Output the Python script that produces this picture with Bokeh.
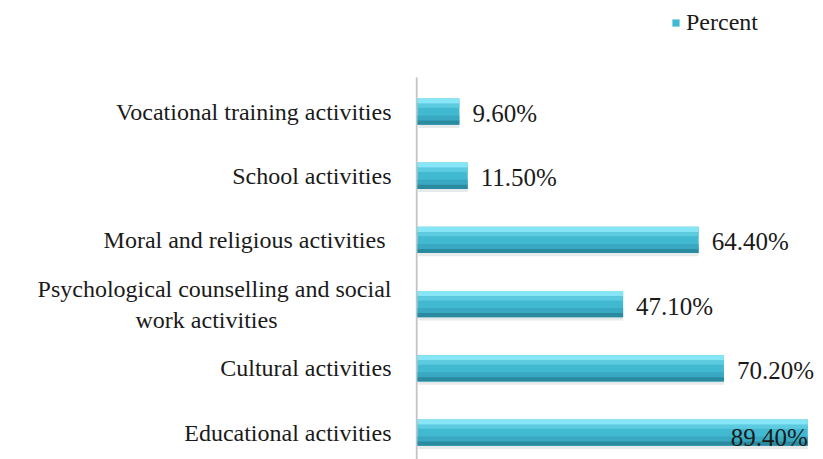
from bokeh.plotting import figure
from bokeh.models import Range1d, ColumnDataSource, Legend, LegendItem, FixedTicker
from bokeh.core.properties import value
from bokeh.transform import dodge
from bokeh.embed import file_html
from bokeh.resources import INLINE

categories = ["Educational activities", "Cultural activities",
              "Psychological counselling and social\nwork activities" + "\u00a0" * 19,
              "Moral and religious  activities", "School activities",
              "Vocational training activities"]
percents = [89.4, 70.2, 47.1, 64.4, 11.5, 9.6]
value_labels = ["89.40%", "70.20%", "47.10%", "64.40%", "11.50%", "9.60%"]
series_name = "Percent"

FONT = "Liberation Serif"
ys = list(range(len(categories)))
inside = [v >= max(percents) for v in percents]
src = ColumnDataSource(dict(
    y=ys, v=percents, lab=value_labels,
    align=["right" if i else "left" for i in inside],
    xo=[0 if i else 13 for i in inside],
    yo=[5 if i else 2 for i in inside],
))

y0, y1 = -0.42, 6.73
p = figure(width=823, height=459, output_backend="svg", toolbar_location=None,
           x_range=Range1d(-0.45, 93.0), y_range=Range1d(y0, y1),
           min_border_left=415, min_border_right=0, min_border_top=0, min_border_bottom=0,
           background_fill_color="white", border_fill_color="white")
p.outline_line_color = None
p.xgrid.visible = False
p.ygrid.visible = False
p.xaxis.visible = False

# vertical axis line
p.segment(x0=[-0.2], y0=[y0], x1=[-0.2], y1=[len(categories) - 1 + 0.53],
          line_color="#c4c4c4", line_width=2)

h = 0.41
# soft shadow
p.hbar(y=dodge("y", -0.05, range=p.y_range), left=0.2, right="v", height=h, source=src,
       fill_color="#c8d0d2", line_color=None, fill_alpha=0.45)
r = p.hbar(y="y", left=0, right="v", height=h, source=src,
           fill_color="#41b9d0", line_color=None)
# gradient-like bands (3D look)
p.hbar(y=dodge("y", h * 0.40, range=p.y_range), left=0, right="v", height=h * 0.2,
       source=src, fill_color="#86e6f5", line_color=None)
p.hbar(y=dodge("y", h * 0.22, range=p.y_range), left=0, right="v", height=h * 0.16,
       source=src, fill_color="#5ccbe0", line_color=None)
p.hbar(y=dodge("y", -h * 0.25, range=p.y_range), left=0, right="v", height=h * 0.2,
       source=src, fill_color="#38a9c0", line_color=None)
p.hbar(y=dodge("y", -h * 0.42, range=p.y_range), left=0, right="v", height=h * 0.16,
       source=src, fill_color="#2a8aa0", line_color=None)

p.text(x="v", y="y", text="lab", source=src, text_align="align", text_baseline="middle",
       x_offset="xo", y_offset="yo", text_font=value(FONT), text_font_size="25px",
       text_color="#1a1a1a")

ax = p.yaxis[0]
ax.ticker = FixedTicker(ticks=ys)
ax.major_label_overrides = {i: c for i, c in zip(ys, categories)}
ax.major_label_text_font = FONT
ax.major_label_text_font_size = "24px"
ax.major_label_text_color = "#1a1a1a"
ax.major_label_standoff = 24
ax.major_tick_out = 0
ax.major_tick_in = 0
ax.minor_tick_out = 0
ax.minor_tick_in = 0
ax.axis_line_color = None

legend = Legend(items=[LegendItem(label=series_name, renderers=[r])],
                location=(256, 423), orientation="horizontal",
                label_text_font=FONT, label_text_font_size="24px",
                label_text_color="#1a1a1a",
                glyph_width=9, glyph_height=9, label_standoff=6,
                background_fill_alpha=0, border_line_color=None, padding=0, margin=0)
p.add_layout(legend)

open("out.html", "w").write(file_html(p, INLINE))
